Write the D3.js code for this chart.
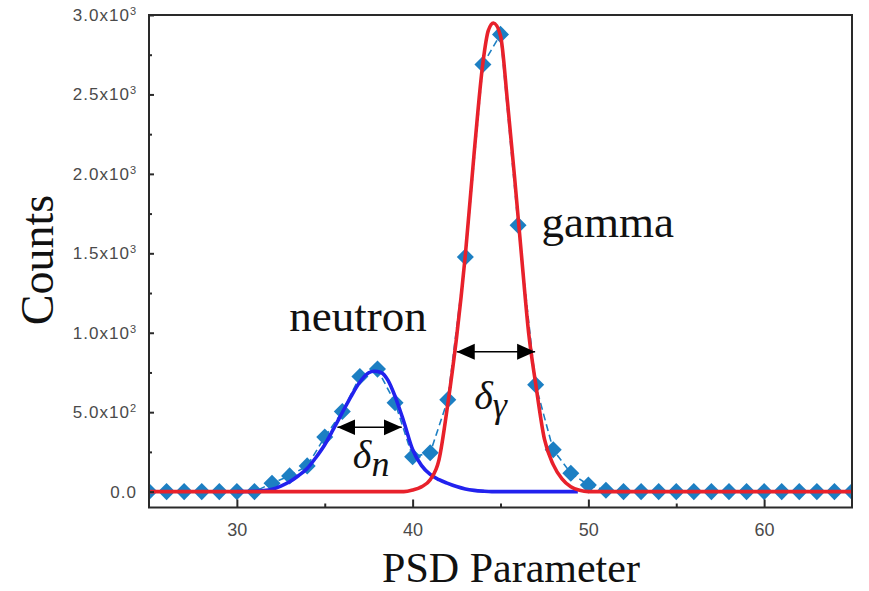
<!DOCTYPE html>
<html>
<head>
<meta charset="utf-8">
<script src="https://cdn.jsdelivr.net/npm/d3@7"></script>
<style>
  body { margin: 0; background: #fff; }
  svg { display: block; }
</style>
</head>
<body>
<script>
// measured counts per PSD channel (diamonds)
const psd = [25,26,27,28,29,30,31,32,33,34,35,36,37,38,39,40,41,42,43,44,45,
             46,47,48,49,50,51,52,53,54,55,56,57,58,59,60,61,62,63,64,65];
const counts = [0,0,0,0,0,0,0,53,99,162,343,504,725,771,559,219,244,578,1477,2689,2878,
                1676,672,263,116,42,8,0,0,0,0,0,0,0,0,0,0,0,0,0,0];

// fitted curves
const neutronFitX = [30,31,31.5,32,32.5,33,33.5,34,34.5,35,35.5,36,36.5,37,37.5,37.8,38.2,38.6,39,39.5,40,40.5,41,41.5,42,42.5,43,43.5,44,44.5,49.4];
const neutronFitY = [0,2,6,15,35,62,100,145,215,295,395,498,600,690,748,758,750,700,600,440,265,165,108,75,52,32,17,8,3,0,0];
const gammaFitX = [25,39.5,40,40.5,41,41.5,42,42.5,43,43.5,44,44.3,44.6,45,45.4,45.8,46.2,46.6,47,47.5,48,48.5,49,49.5,50,65];
const gammaFitY = [0,0,10,30,75,200,550,970,1490,2130,2700,2900,2950,2870,2450,1980,1480,1000,680,330,170,80,30,8,0,0];

const xTicks = [30, 40, 50, 60];
const xMinor = [35, 45, 55];
const yTicks = [0, 500, 1000, 1500, 2000, 2500, 3000];
const yMinor = [250, 750, 1250, 1750, 2250, 2750];
const yTickLabels = [["0.0",""],["5.0x10","2"],["1.0x10","3"],["1.5x10","3"],["2.0x10","3"],["2.5x10","3"],["3.0x10","3"]];

// width markers (delta arrows) in data units
const widthArrows = [
  {x1: 35.72, x2: 39.38, y: 405},
  {x1: 42.51, x2: 46.97, y: 880}
];

const W = 869, H = 591;
const margin = {left: 149, top: 15, right: 17, bottom: 83.5};

const svg = d3.select("body").append("svg")
    .attr("width", W)
    .attr("height", H);

const x = d3.scaleLinear().domain([25, 65]).range([margin.left, W - margin.right]);
const y = d3.scaleLinear().domain([-100, 3000]).range([H - margin.bottom, margin.top]);

svg.append("defs").append("clipPath").attr("id", "plot")
  .append("rect")
    .attr("x", x(25)).attr("y", y(3000))
    .attr("width", x(65) - x(25)).attr("height", y(-100) - y(3000));

const plot = svg.append("g").attr("clip-path", "url(#plot)");

const pts = psd.map((d, i) => [d, counts[i]]);
const markerColor = "#1c7fc3";

// dashed line joining the measured points
plot.append("path")
    .datum(pts)
    .attr("fill", "none")
    .attr("stroke", markerColor)
    .attr("stroke-width", 1.6)
    .attr("stroke-dasharray", "7,4")
    .attr("d", d3.line().x(d => x(d[0])).y(d => y(d[1])));

plot.selectAll(".pt")
  .data(pts)
  .join("path")
    .attr("class", "pt")
    .attr("transform", d => `translate(${x(d[0])},${y(d[1])}) rotate(45)`)
    .attr("d", d3.symbol().type(d3.symbolSquare).size(145))
    .attr("fill", markerColor);

const fitLine = d3.line()
    .x(d => x(d[0])).y(d => y(d[1]))
    .curve(d3.curveMonotoneX);

plot.append("path")
    .datum(neutronFitX.map((d, i) => [d, neutronFitY[i]]))
    .attr("fill", "none")
    .attr("stroke", "#2222ee")
    .attr("stroke-width", 3.6)
    .attr("d", fitLine);

plot.append("path")
    .datum(gammaFitX.map((d, i) => [d, gammaFitY[i]]))
    .attr("fill", "none")
    .attr("stroke", "#e8212b")
    .attr("stroke-width", 3.6)
    .attr("d", fitLine);

// frame
svg.append("rect")
    .attr("x", x(25)).attr("y", y(3000))
    .attr("width", x(65) - x(25)).attr("height", y(-100) - y(3000))
    .attr("fill", "none")
    .attr("stroke", "#2a2a2a")
    .attr("stroke-width", 2);

// axes, ticks pointing inward
const xAxis = svg.append("g")
    .attr("transform", `translate(0,${y(-100)})`)
    .call(d3.axisBottom(x).tickValues(xTicks).tickSize(-8).tickPadding(16));
svg.append("g")
    .attr("transform", `translate(0,${y(-100)})`)
    .call(d3.axisBottom(x).tickValues(xMinor).tickSize(-4).tickFormat(""));

const yAxis = svg.append("g")
    .attr("transform", `translate(${x(25)},0)`)
    .call(d3.axisLeft(y).tickValues(yTicks).tickSize(-5).tickPadding(12));
svg.append("g")
    .attr("transform", `translate(${x(25)},0)`)
    .call(d3.axisLeft(y).tickValues(yMinor).tickSize(-3).tickFormat(""));

svg.selectAll(".domain").remove();
svg.selectAll(".tick line").attr("stroke", "#2a2a2a").attr("stroke-width", 2);

xAxis.selectAll(".tick text")
    .attr("font-family", "Liberation Sans, Arial, sans-serif")
    .attr("font-size", 18)
    .attr("fill", "#4a4a4a");

yAxis.selectAll(".tick text")
    .attr("font-family", "Liberation Sans, Arial, sans-serif")
    .attr("font-size", 17)
    .attr("letter-spacing", 1)
    .attr("fill", "#4a4a4a")
    .each(function(d) {
      const lab = yTickLabels[yTicks.indexOf(d)];
      const t = d3.select(this).text(null);
      t.append("tspan").text(lab[0]);
      if (lab[1]) t.append("tspan").attr("dy", "-0.55em").attr("font-size", 11).text(lab[1]);
    });

// axis titles
const serif = "Liberation Serif, Times New Roman, serif";
svg.append("text")
    .attr("transform", `translate(53,260) rotate(-90)`)
    .attr("text-anchor", "middle")
    .attr("font-family", serif)
    .attr("font-size", 46)
    .attr("fill", "#111")
    .text("Counts");

svg.append("text")
    .attr("x", 511).attr("y", 582)
    .attr("text-anchor", "middle")
    .attr("font-family", serif)
    .attr("font-size", 42)
    .attr("fill", "#111")
    .text("PSD Parameter");

// peak labels
svg.append("text")
    .attr("x", x(47.33)).attr("y", y(1602))
    .attr("font-family", serif).attr("font-size", 45).attr("fill", "#111")
    .text("gamma");
svg.append("text")
    .attr("x", x(32.98)).attr("y", y(1011))
    .attr("font-family", serif).attr("font-size", 45).attr("fill", "#111")
    .text("neutron");

// width arrows
const arrowDefs = svg.select("defs");
arrowDefs.append("marker")
    .attr("id", "head")
    .attr("viewBox", "0 0 18 18")
    .attr("refX", 18).attr("refY", 9)
    .attr("markerWidth", 18).attr("markerHeight", 18)
    .attr("markerUnits", "userSpaceOnUse")
    .attr("orient", "auto-start-reverse")
  .append("path")
    .attr("d", "M0,1 L18,9 L0,17 Z")
    .attr("fill", "#000");

svg.selectAll(".arrow")
  .data(widthArrows)
  .join("line")
    .attr("class", "arrow")
    .attr("x1", d => x(d.x1)).attr("x2", d => x(d.x2))
    .attr("y1", d => y(d.y)).attr("y2", d => y(d.y))
    .attr("stroke", "#000")
    .attr("stroke-width", 1.5)
    .attr("marker-start", "url(#head)")
    .attr("marker-end", "url(#head)");

// delta labels
const dn = svg.append("text")
    .attr("x", x(36.6)).attr("y", y(150))
    .attr("font-family", serif).attr("font-style", "italic")
    .attr("font-size", 40).attr("fill", "#111");
dn.append("tspan").text("δ");
dn.append("tspan").attr("dy", 8).attr("font-size", 36).text("n");

const dg = svg.append("text")
    .attr("x", x(43.5)).attr("y", y(520))
    .attr("font-family", serif).attr("font-style", "italic")
    .attr("font-size", 40).attr("fill", "#111");
dg.append("tspan").text("δ");
dg.append("tspan").attr("dy", 8).attr("font-size", 36).text("γ");
</script>
</body>
</html>
